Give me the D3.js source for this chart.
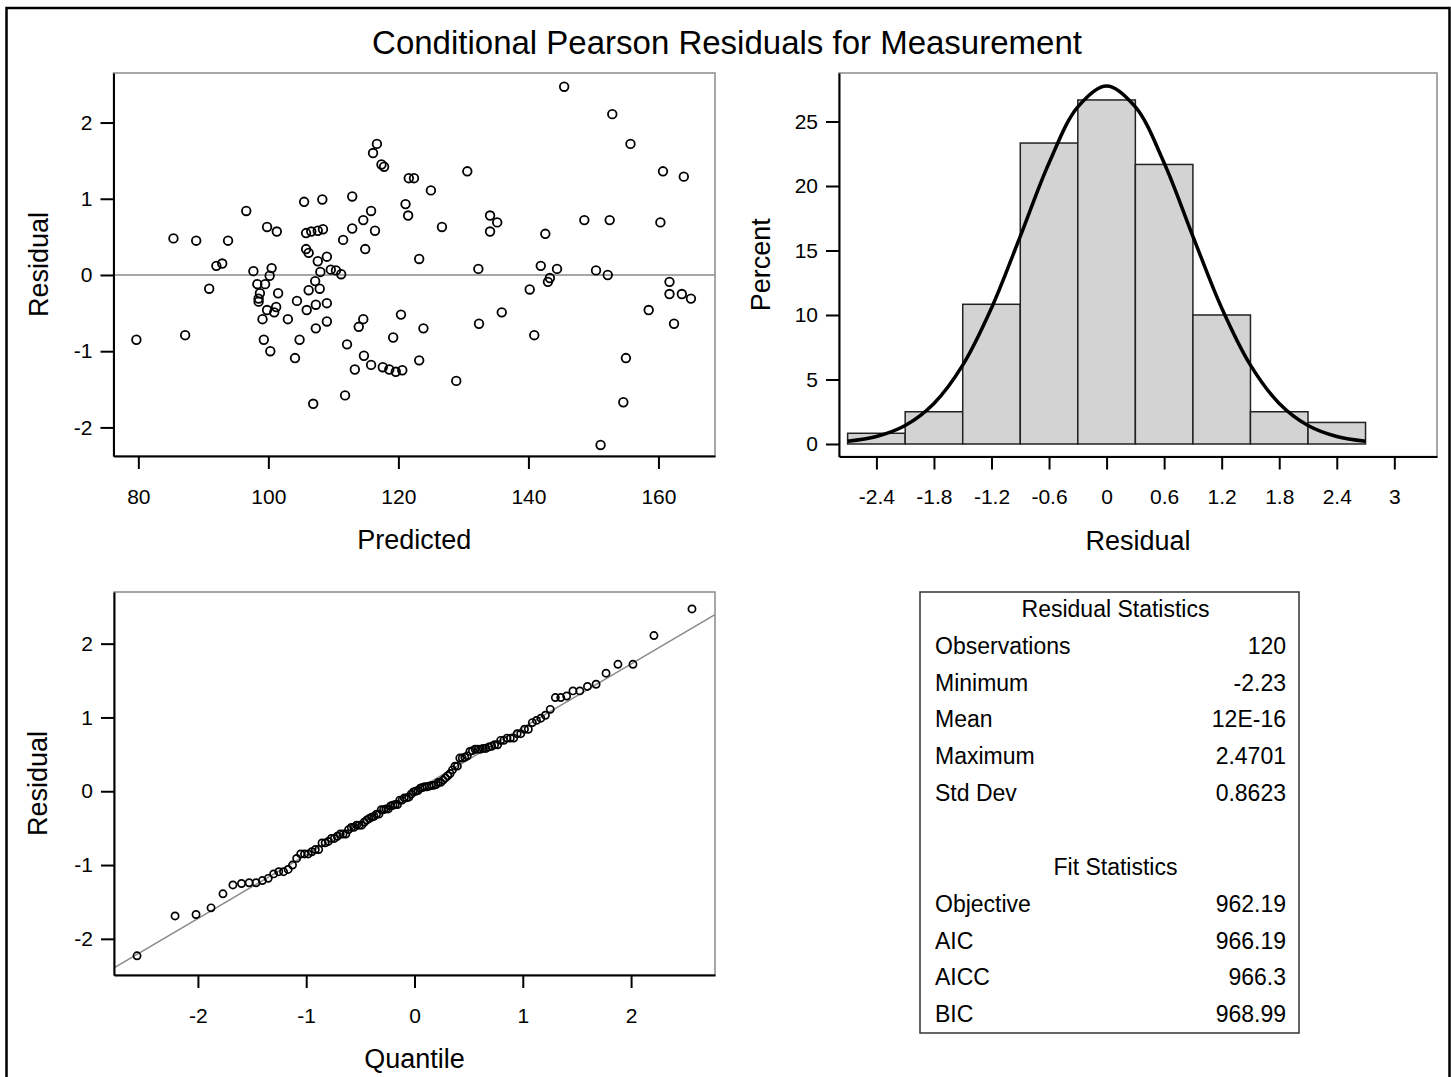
<!DOCTYPE html>
<html>
<head>
<meta charset="utf-8">
<script src="https://cdn.jsdelivr.net/npm/d3@7"></script>
<style>
  body { margin: 0; background: #fff; }
  svg { display: block; }
</style>
</head>
<body>
<div id="chart"></div>
<script>
// ---- data ----
// conditional predicted value / pearson residual, one entry per observation (n = 120)
const predicted = [
  79.7, 85.4, 87.2, 88.9, 90.9, 92.0, 92.9, 93.8, 96.6, 97.7,
  98.3, 98.7, 98.5, 98.5, 99.5, 100.2, 100.5, 99.8, 101.3, 99.8,
  100.9, 101.2, 101.5, 99.1, 99.3, 100.3, 103.0, 104.4, 104.8, 104.1,
  105.5, 108.3, 105.8, 106.6, 107.6, 108.4, 105.8, 106.2, 107.6, 109.0,
  108.0, 107.2, 106.2, 107.9, 105.9, 107.3, 109.0, 109.0, 107.3, 106.9,
  109.6, 110.4, 111.2, 111.5, 112.9, 112.9, 114.6, 115.8, 116.4, 114.9,
  112.1, 111.8, 113.3, 113.9, 114.6, 114.7, 115.8, 117.6, 118.6, 119.6,
  120.6, 119.2, 120.4, 116.7, 116.1, 117.4, 117.8, 121.6, 122.4, 121.1,
  121.5, 123.2, 123.85, 123.2, 125.0, 126.7, 128.9, 130.6, 132.3, 132.4,
  134.1, 135.2, 134.1, 135.9, 140.2, 140.9, 141.9, 142.6, 144.4, 143.3,
  143.0, 145.5, 148.6, 150.4, 152.2, 152.5, 152.9, 151.1, 154.6, 155.0,
  155.7, 158.5, 160.3, 160.7, 161.7, 161.7, 162.4, 163.6, 163.9, 165.0
];
const residual = [
  -0.85, 0.48, -0.79, 0.45, -0.18, 0.12, 0.15, 0.45, 0.84, 0.05,
  -0.12, -0.24, -0.31, -0.35, -0.12, -0.01, 0.09, 0.63, 0.57, -0.46,
  -0.49, -0.42, -0.24, -0.58, -0.85, -1.00, -0.58, -0.34, -0.85, -1.09,
  0.96, 0.99, 0.55, 0.57, 0.58, 0.60, 0.34, 0.29, 0.18, 0.24,
  0.04, -0.08, -0.20, -0.18, -0.46, -0.39, -0.37, -0.61, -0.70, -1.69,
  0.07, 0.06, 0.01, 0.46, 1.03, 0.61, 0.72, 0.84, 0.58, 0.34,
  -0.91, -1.58, -1.24, -0.68, -0.58, -1.06, -1.18, -1.21, -1.24, -1.27,
  -1.25, -0.82, -0.52, 1.72, 1.60, 1.45, 1.42, 1.27, 1.27, 0.93,
  0.78, 0.21, -0.70, -1.12, 1.11, 0.63, -1.39, 1.36, 0.08, -0.64,
  0.78, 0.69, 0.57, -0.49, -0.19, -0.79, 0.12, 0.54, 0.08, -0.04,
  -0.09, 2.47, 0.72, 0.06, 0.00, 0.72, 2.11, -2.23, -1.67, -1.09,
  1.72, -0.46, 0.69, 1.36, -0.09, -0.25, -0.64, -0.25, 1.29, -0.31
];

// histogram: bin midpoints and percent of observations
const binMid = [-2.4, -1.8, -1.2, -0.6, 0, 0.6, 1.2, 1.8, 2.4];
const binPercent = [0.83, 2.5, 10.83, 23.33, 26.67, 21.67, 10, 2.5, 1.67];
const binWidth = 0.6;

// normal density overlay, read as percent
const curveX = [-2.7, -2.4, -2.1, -1.8, -1.5, -1.2, -0.9, -0.6, -0.3, 0,
                0.3, 0.6, 0.9, 1.2, 1.5, 1.8, 2.1, 2.4, 2.7];
const curvePercent = [0.21, 0.58, 1.43, 3.14, 6.11, 10.54, 16.10, 21.79, 26.13, 27.76,
                      26.13, 21.79, 16.10, 10.54, 6.11, 3.14, 1.43, 0.58, 0.21];

// reference line on the Q-Q plot (intercept = mean, slope = std dev)
const qqIntercept = 0;
const qqSlope = 0.8623;

// tick values
const scatterXTicks = [80, 100, 120, 140, 160];
const residTicks = [-2, -1, 0, 1, 2];
const histXTicks = [-2.4, -1.8, -1.2, -0.6, 0, 0.6, 1.2, 1.8, 2.4, 3];
const histYTicks = [0, 5, 10, 15, 20, 25];
const qqXTicks = [-2, -1, 0, 1, 2];

// statistics table
const residStatLabels = ['Observations', 'Minimum', 'Mean', 'Maximum', 'Std Dev'];
const residStatValues = ['120', '-2.23', '12E-16', '2.4701', '0.8623'];
const fitStatLabels = ['Objective', 'AIC', 'AICC', 'BIC'];
const fitStatValues = ['962.19', '966.19', '966.3', '968.99'];

// ---- layout ----
const W = 1451, H = 1077;
const FONT = '"Liberation Sans", Arial, Helvetica, sans-serif';

const svg = d3.select('#chart').append('svg')
    .attr('width', W)
    .attr('height', H)
    .attr('font-family', FONT);

svg.append('rect').attr('width', W).attr('height', H).attr('fill', '#fff');

// outer border of the graph
svg.append('path')
    .attr('d', `M6.5,${H} V8 H1449.5 V${H}`)
    .attr('fill', 'none')
    .attr('stroke', '#000')
    .attr('stroke-width', 2.5);

svg.append('text')
    .attr('x', 727)
    .attr('y', 54)
    .attr('text-anchor', 'middle')
    .attr('font-size', 33)
    .text('Conditional Pearson Residuals for Measurement');

// builds one plot cell: scales, wall, axes and axis titles
function makePanel(box, xDomain, yDomain, xTicks, yTicks, xLabel, yLabel) {
  const x = d3.scaleLinear().domain(xDomain).range([box.left, box.right]);
  const y = d3.scaleLinear().domain(yDomain).range([box.bottom, box.top]);

  const g = svg.append('g');

  g.append('rect')
      .attr('x', box.left)
      .attr('y', box.top)
      .attr('width', box.right - box.left)
      .attr('height', box.bottom - box.top)
      .attr('fill', 'none')
      .attr('stroke', '#8a8a8a')
      .attr('stroke-width', 1.5);

  const marks = g.append('g');

  const xAxisG = g.append('g')
      .attr('transform', `translate(0,${box.bottom})`)
      .call(d3.axisBottom(x).tickValues(xTicks).tickSize(13).tickSizeOuter(0)
          .tickPadding(20).tickFormat(d => String(d)));
  const yAxisG = g.append('g')
      .attr('transform', `translate(${box.left},0)`)
      .call(d3.axisLeft(y).tickValues(yTicks).tickSize(13).tickSizeOuter(0)
          .tickPadding(8).tickFormat(d => String(d)));

  [xAxisG, yAxisG].forEach(a => {
    a.attr('font-family', FONT).attr('font-size', 21);
    a.selectAll('path, line').attr('stroke', '#000').attr('stroke-width', 2);
    a.selectAll('text').attr('fill', '#000');
  });

  g.append('text')
      .attr('x', (box.left + box.right) / 2)
      .attr('y', box.bottom + 93)
      .attr('text-anchor', 'middle')
      .attr('font-size', 27)
      .text(xLabel);

  g.append('text')
      .attr('transform', `translate(${box.left - box.yLabelGap},${(box.top + box.bottom) / 2}) rotate(-90)`)
      .attr('text-anchor', 'middle')
      .attr('font-size', 27)
      .text(yLabel);

  return { x, y, marks };
}

// ---- residual vs predicted ----
const scatter = makePanel(
    { left: 113.5, right: 715, top: 73, bottom: 456, yLabelGap: 66 },
    [76.18, 168.7], [-2.375, 2.65],
    scatterXTicks, residTicks, 'Predicted', 'Residual');

scatter.marks.append('line')
    .attr('x1', scatter.x.range()[0])
    .attr('x2', scatter.x.range()[1])
    .attr('y1', scatter.y(0))
    .attr('y2', scatter.y(0))
    .attr('stroke', '#8a8a8a')
    .attr('stroke-width', 1.5);

scatter.marks.selectAll('circle')
    .data(predicted.map((p, i) => [p, residual[i]]))
    .join('circle')
    .attr('cx', d => scatter.x(d[0]))
    .attr('cy', d => scatter.y(d[1]))
    .attr('r', 4.3)
    .attr('fill', 'none')
    .attr('stroke', '#000')
    .attr('stroke-width', 1.8);

// ---- histogram with normal curve ----
const hist = makePanel(
    { left: 839, right: 1437, top: 73, bottom: 456.5, yLabelGap: 69.5 },
    [-2.79, 3.445], [-0.97, 28.76],
    histXTicks, histYTicks, 'Residual', 'Percent');

hist.marks.selectAll('rect')
    .data(binMid.map((m, i) => [m, binPercent[i]]))
    .join('rect')
    .attr('x', d => hist.x(d[0] - binWidth / 2))
    .attr('width', d => hist.x(d[0] + binWidth / 2) - hist.x(d[0] - binWidth / 2))
    .attr('y', d => hist.y(d[1]))
    .attr('height', d => hist.y(0) - hist.y(d[1]))
    .attr('fill', '#d3d3d3')
    .attr('stroke', '#222')
    .attr('stroke-width', 1.5);

hist.marks.append('path')
    .datum(curveX.map((v, i) => [v, curvePercent[i]]))
    .attr('d', d3.line()
        .x(d => hist.x(d[0]))
        .y(d => hist.y(d[1]))
        .curve(d3.curveCatmullRom.alpha(0.5)))
    .attr('fill', 'none')
    .attr('stroke', '#000')
    .attr('stroke-width', 3.5);

// ---- normal quantile plot ----
// inverse standard normal cdf (Acklam's rational approximation)
function qnorm(p) {
  const a = [-39.69683028665376, 220.9460984245205, -275.9285104469687, 138.3577518672690, -30.66479806614716, 2.506628277459239];
  const b = [-54.47609879822406, 161.5858368580409, -155.6989798598866, 66.80131188771972, -13.28068155288572];
  const c = [-0.007784894002430293, -0.3223964580411365, -2.400758277161838, -2.549671635473546, 4.374664141464968, 2.938163982698783];
  const d = [0.007784695709041462, 0.3224671290700398, 2.445134137142996, 3.754408661907416];
  const tail = q => (((((c[0] * q + c[1]) * q + c[2]) * q + c[3]) * q + c[4]) * q + c[5]) /
      ((((d[0] * q + d[1]) * q + d[2]) * q + d[3]) * q + 1);
  if (p < 0.02425) return tail(Math.sqrt(-2 * Math.log(p)));
  if (p > 1 - 0.02425) return -tail(Math.sqrt(-2 * Math.log(1 - p)));
  const q = p - 0.5, r = q * q;
  return (((((a[0] * r + a[1]) * r + a[2]) * r + a[3]) * r + a[4]) * r + a[5]) * q /
      (((((b[0] * r + b[1]) * r + b[2]) * r + b[3]) * r + b[4]) * r + 1);
}

const n = residual.length;
const sortedResid = residual.slice().sort(d3.ascending);
const qqData = sortedResid.map((r, i) => [qnorm((i + 1 - 0.375) / (n + 0.25)), r]);

const qq = makePanel(
    { left: 114, right: 715, top: 592, bottom: 975, yLabelGap: 67 },
    [-2.775, 2.775], [-2.49, 2.70],
    qqXTicks, residTicks, 'Quantile', 'Residual');

const qx = qq.x.domain();
qq.marks.append('line')
    .attr('x1', qq.x(qx[0]))
    .attr('x2', qq.x(qx[1]))
    .attr('y1', qq.y(qqIntercept + qqSlope * qx[0]))
    .attr('y2', qq.y(qqIntercept + qqSlope * qx[1]))
    .attr('stroke', '#8a8a8a')
    .attr('stroke-width', 1.5);

qq.marks.selectAll('circle')
    .data(qqData)
    .join('circle')
    .attr('cx', d => qq.x(d[0]))
    .attr('cy', d => qq.y(d[1]))
    .attr('r', 3.6)
    .attr('fill', 'none')
    .attr('stroke', '#000')
    .attr('stroke-width', 1.7);

// ---- statistics inset ----
const table = { left: 920, right: 1299, top: 592, bottom: 1033, labelX: 935, valueX: 1286 };
const tg = svg.append('g').attr('font-size', 23);

tg.append('rect')
    .attr('x', table.left)
    .attr('y', table.top)
    .attr('width', table.right - table.left)
    .attr('height', table.bottom - table.top)
    .attr('fill', '#fff')
    .attr('stroke', '#333')
    .attr('stroke-width', 1.5);

const rowStep = 36.8;
function tableBlock(title, labels, values, titleY) {
  tg.append('text')
      .attr('x', (table.left + table.right) / 2 + 6)
      .attr('y', titleY + 8)
      .attr('text-anchor', 'middle')
      .text(title);
  labels.forEach((lab, i) => {
    const yy = titleY + rowStep * (i + 1) + 8;
    tg.append('text').attr('x', table.labelX).attr('y', yy).text(lab);
    tg.append('text').attr('x', table.valueX).attr('y', yy)
        .attr('text-anchor', 'end').text(values[i]);
  });
}
tableBlock('Residual Statistics', residStatLabels, residStatValues, 609);
tableBlock('Fit Statistics', fitStatLabels, fitStatValues, 867);
</script>
</body>
</html>
